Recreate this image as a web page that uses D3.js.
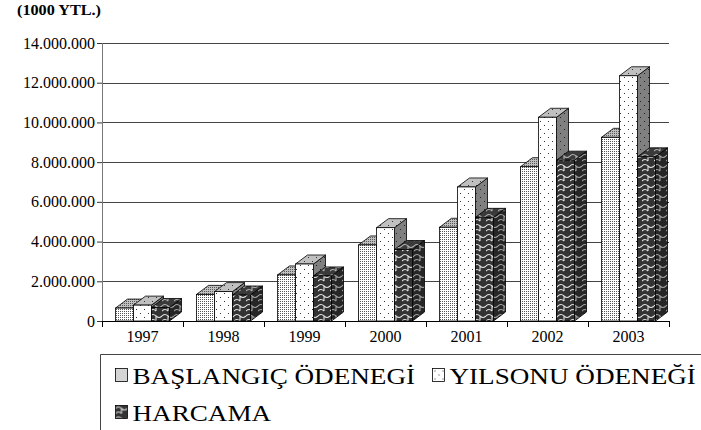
<!DOCTYPE html>
<html>
<head>
<meta charset="utf-8">
<script src="https://cdn.jsdelivr.net/npm/d3@7"></script>
<style>
  body { margin: 0; background: #fff; }
  svg { display: block; }
  svg text { font-family: 'Liberation Serif', 'DejaVu Serif', serif; }
</style>
</head>
<body>
<svg id="chart" width="701" height="430"></svg>
<script>
// Data (1000 YTL.)
var years = ["1997", "1998", "1999", "2000", "2001", "2002", "2003"];
var seriesNames = ["BAŞLANGIÇ ÖDENEGİ", "YILSONU ÖDENEĞİ", "HARCAMA"];
var baslangic = [650000, 1340000, 2320000, 3830000, 4720000, 7770000, 9250000];
var yilsonu = [800000, 1480000, 2870000, 4700000, 6750000, 10260000, 12350000];
var harcama = [680000, 1310000, 2270000, 3600000, 5220000, 8100000, 8270000];
var yTicks = [0, 2000000, 4000000, 6000000, 8000000, 10000000, 12000000, 14000000];

var svg = d3.select("#chart");
var margin = {top: 43, right: 32, bottom: 109, left: 102};
var width = 701 - margin.left - margin.right;
var height = 430 - margin.top - margin.bottom;
var depth = {x: 12, y: 9};
var serif = "'Liberation Serif', 'DejaVu Serif', serif";

var trLocale = d3.formatLocale({decimal: ",", thousands: ".", grouping: [3], currency: ["", ""]});
var fmt = trLocale.format(",d");

var x = d3.scaleBand().domain(years).range([0, width]);
var barW = 18;
var xs = d3.scaleBand().domain(d3.range(3)).range([-barW * 1.5, barW * 1.5]);
var y = d3.scaleLinear().domain([0, 14000000]).range([height, 0]);

// Patterns
var defs = svg.append("defs");

function dotPattern(id, bg, dot, size, pts) {
    var p = defs.append("pattern").attr("id", id).attr("patternUnits", "userSpaceOnUse")
        .attr("width", size).attr("height", size);
    p.append("rect").attr("width", size).attr("height", size).attr("fill", bg);
    pts.forEach(function(pt) {
        p.append("rect").attr("x", pt[0]).attr("y", pt[1]).attr("width", 1).attr("height", 1).attr("fill", dot);
    });
}
// fine stipple for BAŞLANGIÇ
dotPattern("bas-front", "#fff", "#555", 2, [[0, 0]]);
dotPattern("bas-top", "#c0c0c0", "#555", 2, [[0, 0]]);
dotPattern("bas-side", "#9a9a9a", "#444", 2, [[0, 0]]);
// sparse dots for YILSONU
dotPattern("yil-front", "#fff", "#333", 8, [[2, 2], [6, 6]]);
dotPattern("yil-top", "#c0c0c0", "#333", 8, [[2, 2], [6, 6]]);
dotPattern("yil-side", "#808080", "#222", 8, [[2, 2], [6, 6]]);

// wavy white lines on dark for HARCAMA
function wavePattern(id, bg, line) {
    var p = defs.append("pattern").attr("id", id).attr("patternUnits", "userSpaceOnUse")
        .attr("width", 12).attr("height", 10);
    p.append("rect").attr("width", 12).attr("height", 10).attr("fill", bg);
    p.append("path")
        .attr("d", "M0,3 Q3,0 6,3 Q9,6 12,3 M0,8 Q3,5 6,8 M6,3 L6,8")
        .attr("fill", "none").attr("stroke", line).attr("stroke-width", 1.1);
}
wavePattern("har-front", "#333", "#e0e0e0");
wavePattern("har-top", "#3a3a3a", "#b0b0b0");
wavePattern("har-side", "#262626", "#a0a0a0");

var seriesKeys = ["bas", "yil", "har"];
var data = [baslangic, yilsonu, harcama];

// Title
svg.append("text")
    .attr("transform", "translate(17,15) scale(1.08,1)")
    .style("font-family", serif)
    .style("font-weight", "bold")
    .style("font-size", "15px")
    .text("(1000 YTL.)");

var g = svg.append("g").attr("transform", "translate(" + margin.left + "," + margin.top + ")");

// Gridlines
g.selectAll(".grid")
    .data(yTicks.filter(function(d) { return d > 0; }))
    .enter()
        .append("line")
        .attr("x1", 0).attr("x2", width)
        .attr("y1", function(d) { return Math.round(y(d)) + 0.5; })
        .attr("y2", function(d) { return Math.round(y(d)) + 0.5; })
        .attr("stroke", "#444")
        .attr("stroke-width", 1);

// Y axis
var yAxis = g.append("g")
    .call(d3.axisLeft(y).tickValues(yTicks).tickFormat(fmt).tickSize(5).tickPadding(2));
yAxis.select(".domain").attr("stroke", "#777").attr("d", "M0.5," + height + "V0");
yAxis.selectAll(".tick line").attr("stroke", "#333");
yAxis.selectAll("text")
    .style("font-family", serif)
    .style("font-size", "16px")
    .attr("fill", "#000");

// X axis
var xAxis = g.append("g")
    .attr("transform", "translate(0," + height + ")")
    .call(d3.axisBottom(x).tickSize(0).tickPadding(10));
xAxis.select(".domain").attr("stroke", "#000").attr("d", "M0,0.5H" + width);
xAxis.selectAll("text")
    .style("font-family", serif)
    .style("font-size", "16px")
    .attr("fill", "#000");
// category boundary ticks
xAxis.selectAll(".sep")
    .data(years.concat(["end"]))
    .enter()
        .append("line")
        .attr("x1", function(d, i) { return Math.round(i * x.step()) + 0.5; })
        .attr("x2", function(d, i) { return Math.round(i * x.step()) + 0.5; })
        .attr("y1", 0).attr("y2", 6)
        .attr("stroke", "#000");

// Bars (3D)
var bars = [];
years.forEach(function(yr, i) {
    data.forEach(function(vals, s) {
        bars.push({year: yr, s: s, value: vals[i]});
    });
});

var barG = g.selectAll(".bar")
    .data(bars)
    .enter()
        .append("g")
        .attr("class", "bar");

function x0(d) { return x(d.year) + x.bandwidth() / 2 + xs(d.s); }

barG.append("path")
    .attr("d", function(d) {
        var l = x0(d), r = l + barW, t = y(d.value), b = y(0);
        return "M" + r + "," + b + "L" + (r + depth.x) + "," + (b - depth.y) +
            "L" + (r + depth.x) + "," + (t - depth.y) + "L" + r + "," + t + "Z";
    })
    .attr("fill", function(d) { return "url(#" + seriesKeys[d.s] + "-side)"; })
    .attr("stroke", "#000").attr("stroke-width", 0.8).attr("stroke-linejoin", "round");

barG.append("path")
    .attr("d", function(d) {
        var l = x0(d), r = l + barW, t = y(d.value);
        return "M" + l + "," + t + "L" + (l + depth.x) + "," + (t - depth.y) +
            "L" + (r + depth.x) + "," + (t - depth.y) + "L" + r + "," + t + "Z";
    })
    .attr("fill", function(d) { return "url(#" + seriesKeys[d.s] + "-top)"; })
    .attr("stroke", "#000").attr("stroke-width", 0.8).attr("stroke-linejoin", "round");

barG.append("rect")
    .attr("x", x0)
    .attr("y", function(d) { return y(d.value); })
    .attr("width", barW)
    .attr("height", function(d) { return y(0) - y(d.value); })
    .attr("fill", function(d) { return "url(#" + seriesKeys[d.s] + "-front)"; })
    .attr("stroke", "#000").attr("stroke-width", 0.8);

// Legend
var legend = svg.append("g").attr("transform", "translate(100.5,354.5)");
legend.append("path")
    .attr("d", "M0,80V0H610")
    .attr("fill", "none").attr("stroke", "#444").attr("stroke-width", 1);

var legendPos = [[15, 14], [332, 14], [15, 51]];
var items = legend.selectAll(".item")
    .data(seriesNames)
    .enter()
        .append("g")
        .attr("transform", function(d, i) { return "translate(" + legendPos[i][0] + "," + legendPos[i][1] + ")"; });
items.append("rect")
    .attr("x", 0).attr("y", 0).attr("width", 12).attr("height", 13)
    .attr("fill", function(d, i) { return "url(#" + seriesKeys[i] + "-front)"; })
    .attr("stroke", "#000").attr("stroke-width", 0.8);
items.append("text")
    .attr("transform", "translate(17,15.5) scale(1.18,1)")
    .style("font-family", serif)
    .style("font-size", "23px")
    .attr("fill", "#000")
    .text(function(d) { return d; });
</script>
</body>
</html>
